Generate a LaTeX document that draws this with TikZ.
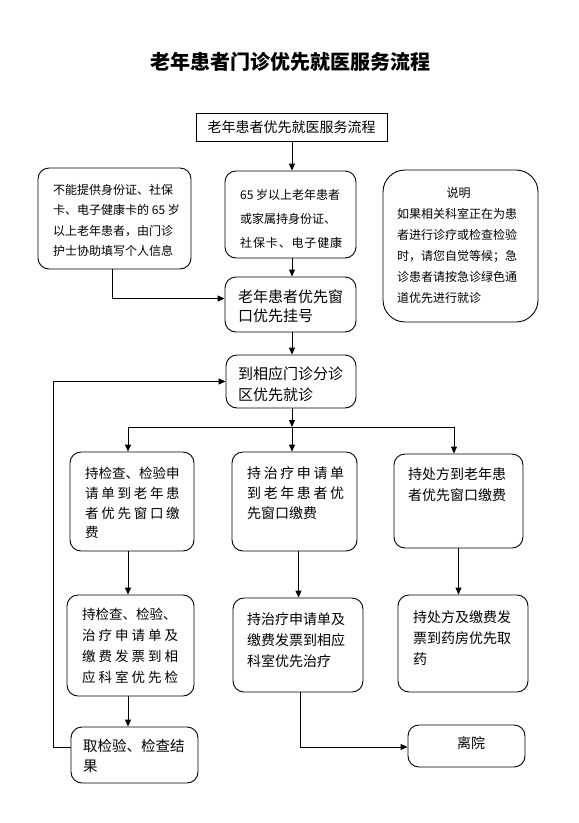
\documentclass[tikz,border=0pt]{standalone}
\usepackage{fontspec}
\newfontfamily\cjk{Noto Sans CJK SC}
\usetikzlibrary{arrows.meta}
\newcommand\spr[2]{\makebox[#1][s]{\sprA#2\relax}}
\def\sprA#1{#1\sprB}
\def\sprB#1{\ifx\relax#1\else\hfil#1\expandafter\sprB\fi}
\begin{document}
\begin{tikzpicture}[x=1pt,y=-1pt,
  box/.style={draw=black, line width=0.9pt, rounded corners=11pt, inner sep=0pt},
  txt/.style={anchor=north west, inner sep=0pt, align=left},
  arr/.style={draw=black, line width=0.9pt, -{Triangle[length=7pt,width=6pt]}},
  ln/.style={draw=black, line width=0.9pt}]
\useasboundingbox (0,0) rectangle (579,823);
\fill[white] (0,0) rectangle (579,823);

% title
\node[inner sep=0pt, font=\cjk\bfseries\fontsize{20}{24}\selectfont] (title) at (290,62) {老年患者门诊优先就医服务流程};

% boxes
\node[box, sharp corners, minimum width=191pt, minimum height=28pt] (top) at (291.5,127) {};
\node[box, minimum width=153pt, minimum height=101pt] (L) at (114.5,218.5) {};
\node[box, minimum width=131pt, minimum height=87pt] (P65) at (290.5,214.5) {};
\node[box, minimum width=131pt, minimum height=55pt] (GH) at (290.5,304.5) {};
\node[box, minimum width=130pt, minimum height=53pt] (FZ) at (291,381.5) {};
\node[box, rounded corners=22pt, minimum width=155pt, minimum height=152pt] (SM) at (460.5,246) {};
\node[box, minimum width=124pt, minimum height=99pt] (A1) at (132,501.5) {};
\node[box, minimum width=125pt, minimum height=99pt] (B1) at (294.5,501.5) {};
\node[box, minimum width=129pt, minimum height=94pt] (C1) at (458.5,501) {};
\node[box, minimum width=127pt, minimum height=101pt] (A2) at (130.5,645.5) {};
\node[box, minimum width=130pt, minimum height=94pt] (B2) at (298,645) {};
\node[box, minimum width=130pt, minimum height=97pt] (C2) at (463,643.5) {};
\node[box, minimum width=127pt, minimum height=56pt] (A3) at (134.5,755) {};
\node[box, minimum width=117pt, minimum height=42pt] (LY) at (466.5,746) {};

% texts
\node[inner sep=0pt, font=\cjk\fontsize{14}{18}\selectfont] (ttop) at (top) {老年患者优先就医服务流程};
\node[txt, font=\cjk\fontsize{12}{20.5}\selectfont] (tL) at (53,184) {不能提供身份证、社保\\卡、电子健康卡的 65 岁\\以上老年患者，由门诊\\护士协助填写个人信息};
\node[txt, font=\cjk\fontsize{12}{24}\selectfont] (tP65) at (240,189) {65 岁以上老年患者\\或家属持身份证、\\\spr{102pt}{社保卡、电子健康}};
\node[txt, font=\cjk\fontsize{15}{19.5}\selectfont] (tGH) at (238,289.5) {老年患者优先窗\\口优先挂号};
\node[txt, font=\cjk\fontsize{15}{21}\selectfont] (tFZ) at (238,366.5) {到相应门诊分诊\\区优先就诊};
\node[txt, font=\cjk\fontsize{12}{21}\selectfont] (tSM) at (397,187) {\makebox[123pt]{说明}\\如果相关科室正在为患\\者进行诊疗或检查检验\\时，请您自觉等候；急\\诊患者请按急诊绿色通\\道优先进行就诊};
\node[txt, font=\cjk\fontsize{13.5}{19.7}\selectfont] (tA1) at (85,467) {持检查、检验申\\\spr{94.5pt}{请单到老年患}\\\spr{94.5pt}{者优先窗口缴}\\费};
\node[txt, font=\cjk\fontsize{14}{20}\selectfont] (tB1) at (247,466) {\spr{97pt}{持治疗申请单}\\\spr{97pt}{到老年患者优}\\先窗口缴费};
\node[txt, font=\cjk\fontsize{14}{21}\selectfont] (tC1) at (408,467) {持处方到老年患\\者优先窗口缴费};
\node[txt, font=\cjk\fontsize{13.5}{21}\selectfont] (tA2) at (82,608) {持检查、检验、\\\spr{96pt}{治疗申请单及}\\\spr{96pt}{缴费发票到相}\\\spr{96pt}{应科室优先检}};
\node[txt, font=\cjk\fontsize{14}{21}\selectfont] (tB2) at (247,612) {持治疗申请单及\\缴费发票到相应\\科室优先治疗};
\node[txt, font=\cjk\fontsize{14}{21}\selectfont] (tC2) at (413,610) {持处方及缴费发\\票到药房优先取\\药};
\node[txt, font=\cjk\fontsize{14.5}{20}\selectfont] (tA3) at (83,739.5) {取检验、检查结\\果};
\node[txt, font=\cjk\fontsize{14}{18}\selectfont] (tLY) at (457,736) {离院};

% connectors
\coordinate (sp) at (292,427);
\coordinate (aL) at (128,427);
\coordinate (aR) at (454,427);
\coordinate (lp) at (53,747);
\draw[arr] (top.south -| sp) -- (P65.north -| sp);
\draw[arr] (P65.south -| sp) -- (GH.north -| sp);
\draw[arr] (GH.south -| sp) -- (FZ.north -| sp);
\draw[arr] ([xshift=-2.5pt]L.south) |- ([yshift=6pt]GH.west);
\draw[arr] (FZ.south -| sp) -- (sp);
\draw[ln] (aL) -- (aR);
\draw[arr] (aL) -- (aL |- A1.north);
\draw[arr] (sp) -- (sp |- B1.north);
\draw[arr] (aR) -- (aR |- C1.north);
\draw[arr] (aL |- A1.south) -- (aL |- A2.north);
\draw[arr] (aL |- A2.south) -- (aL |- A3.north);
\draw[arr] ([xshift=4pt]B1.south) -- ([xshift=4pt]B1.south |- B2.north);
\draw[arr] (C1.south) -- (C1.south |- C2.north);
\draw[arr] ([xshift=2pt]B2.south) |- ([yshift=-1pt]LY.west);
\draw[arr] (A3.west |- lp) -- (lp) |- (FZ.west);
\end{tikzpicture}
\end{document}
